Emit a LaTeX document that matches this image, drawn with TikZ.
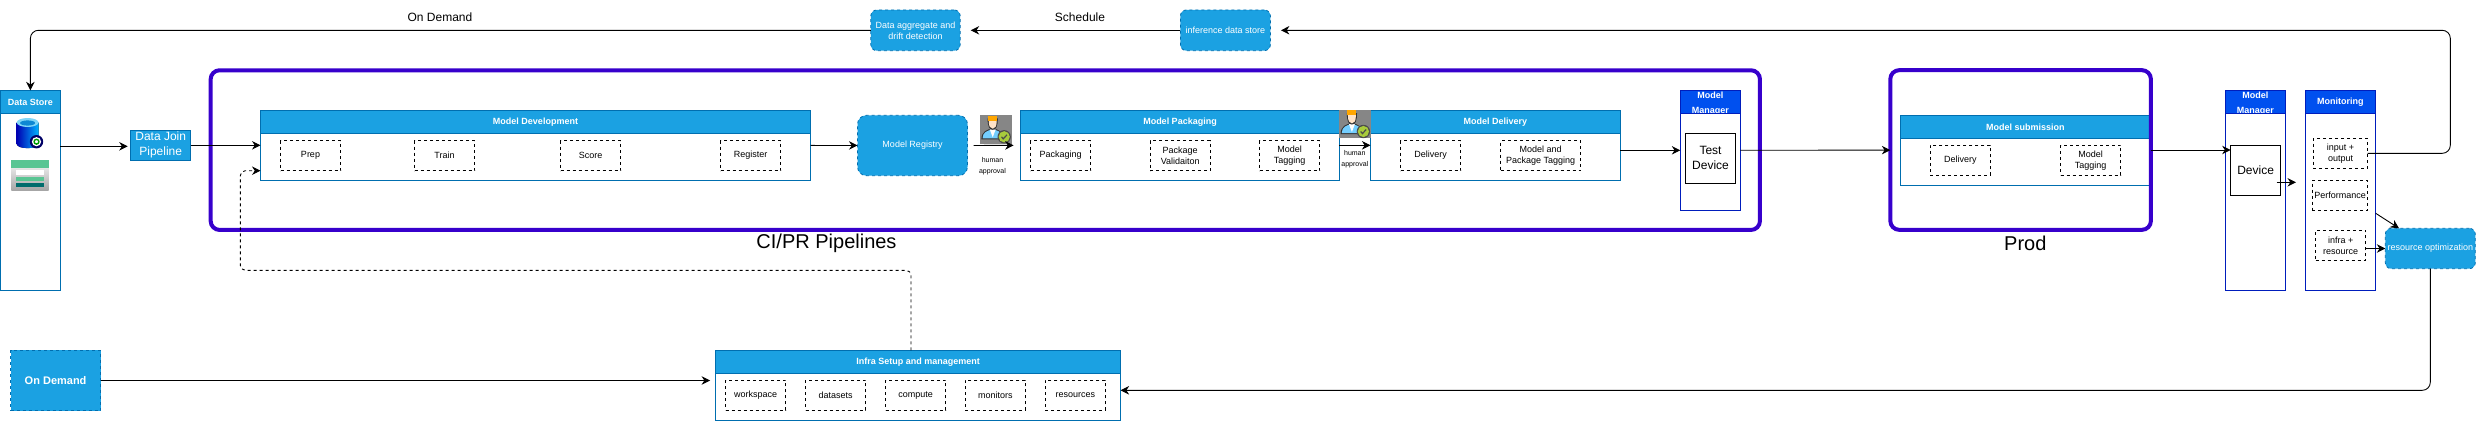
\documentclass[tikz,border=0pt]{standalone}
\usepackage{fontspec}
\setmainfont{Liberation Sans}
\usetikzlibrary{arrows.meta}
\definecolor{boxblue}{HTML}{1BA1E2}
\definecolor{boxline}{HTML}{006EAF}
\definecolor{mgrblue}{HTML}{0050EF}
\definecolor{mgrline}{HTML}{001DBC}
\definecolor{pipepurple}{HTML}{3700CC}
\definecolor{badgegreen}{HTML}{A8CB3C}
\tikzset{
    every node/.style={inner sep=0pt, outer sep=0pt},
    smalltext/.style={font=\fontsize{9}{11}\selectfont, align=center},
    bigtext/.style={font=\fontsize{12}{15}\selectfont, align=center},
    pipelabel/.style={font=\fontsize{20}{24}\selectfont},
    approvaltext/.style={font=\fontsize{7}{11}\selectfont, align=center},
    panelbox/.style={draw=boxline, fill=white, line width=1pt},
    headbox/.style={draw=boxline, fill=boxblue, line width=1pt, text=white, minimum height=23.4, anchor=north,
        font=\bfseries\fontsize{9}{15}\selectfont, align=center},
    mgrbox/.style={draw=mgrline, fill=white, line width=1pt},
    mgrhead/.style={headbox, draw=mgrline, fill=mgrblue},
    subbox/.style={draw=black, dash pattern=on 3pt off 3pt, line width=0.8pt, smalltext, minimum height=30},
    bluebox/.style={draw=boxline, fill=boxblue, dash pattern=on 3pt off 3pt, line width=0.8pt, text=white, smalltext, rounded corners=6},
    framebox/.style={draw=pipepurple, line width=4pt, rounded corners=9},
    devicebox/.style={draw=black, fill=white, line width=1pt, bigtext},
    conn/.style={draw=black, line width=0.9pt, -{Stealth[length=8.5pt,width=8.5pt]}},
    dashconn/.style={conn, dash pattern=on 3pt off 3pt, rounded corners=5},
    approver/.pic={
        \fill[gray!95] (0,0) rectangle (31.4,28.4);
        \fill[black!80] (1.2,24) .. controls (1.2,16) and (7,14) .. (12.5,13) .. controls (18,14) and (23,16) .. (24,24) -- cycle;
        \fill[blue!35!cyan!55] (2.4,23) .. controls (2.4,17) and (7,15) .. (12.5,14.2) .. controls (18,15) and (22,17) .. (23,23) -- cycle;
        \fill[white] (9.5,14) -- (15.5,14) -- (12.5,22) -- cycle;
        \fill[black!80] (7.4,3) .. controls (7.4,11) and (9,14.5) .. (12.5,14.5) .. controls (16,14.5) and (17.6,11) .. (17.6,3) -- cycle;
        \fill[orange!22!white] (8.5,5) .. controls (8.5,11) and (10,13.4) .. (12.5,13.4) .. controls (15,13.4) and (16.5,11) .. (16.5,5) -- cycle;
        \fill[orange!70!yellow] (8,0.4) rectangle (17,5.2);
        \fill[black!70] (24,21.5) circle (6.7);
        \fill[badgegreen] (24,21.5) circle (5.6);
        \draw[black!70, line width=1.2pt] (21.3,21.5) -- (23,23.6) -- (26.8,19.5);
    },
    dbicon/.pic={
        \fill[left color=blue!70!black, right color=cyan!70!blue] (16.7,122.5) -- (16.7,144) .. controls (17,149.5) and (38,149.5) .. (38.5,144) -- (38.5,122.5) -- cycle;
        \fill[cyan!50!white] (27.6,122.5) ellipse (10.9 and 4.5);
        \fill[cyan!70!blue] (27.6,123) ellipse (7.5 and 2.6);
        \fill[blue!40!black] (36.5,141.7) circle (6.7);
        \fill[white] (36.5,141.7) circle (4.6);
        \draw[green!60!black, line width=1.4pt] (36.5,141.7) circle (2.4);
    },
    tableicon/.pic={
        \fill[top color=white!92!black, bottom color=black!35] (11.3,166) rectangle (48.7,190);
        \fill[teal!70!green!65!white] (11.3,160) rectangle (48.7,168);
        \fill[white] (16,170) rectangle (44.3,175);
        \fill[teal!70!green!65!white] (16,176.7) rectangle (44.3,181);
        \fill[teal!85!black] (16,182.7) rectangle (44.3,187.3);
    }
}
\begin{document}
\begin{tikzpicture}[x=1pt, y=-1pt]
    \useasboundingbox (0,0) rectangle (2477,421);

    % data side
    \node[panelbox, minimum width=59.8, minimum height=200] (store) at (30.4,190.3) {};
    \node[headbox, minimum width=59.8] (storehead) at (store.north) {Data Store};
    \pic {dbicon};
    \pic {tableicon};
    \node[draw=boxline, fill=boxblue, line width=1pt, text=white, bigtext, minimum width=60, minimum height=30.6] (join) at (160.7,145.3) {Data Join\\Pipeline};

    % CI/PR frame
    \node[framebox, minimum width=1549.3, minimum height=159.7] (cipipe) at (985.3,150.1) {};
    \node[pipelabel] (cilabel) at (826.5,243) {CI/PR Pipelines};

    \node[panelbox, minimum width=550, minimum height=70] (dev) at (535.5,145.3) {};
    \node[headbox, minimum width=550] (devhead) at (dev.north) {Model Development};
    \node[subbox, minimum width=60] (prep) at (310.5,155.5) {Prep};
    \node[subbox, minimum width=60] (train) at (444.5,155.5) {Train};
    \node[subbox, minimum width=60] (score) at (590.5,155.5) {Score};
    \node[subbox, minimum width=60] (register) at (750.5,155.5) {Register};

    \node[bluebox, minimum width=110, minimum height=60.4, rounded corners=9] (registry) at (912.5,145.5) {Model Registry};

    \node[panelbox, minimum width=318.8, minimum height=70] (package) at (1180,145.3) {};
    \node[headbox, minimum width=318.8] (packagehead) at (package.north) {Model Packaging};
    \node[subbox, minimum width=60] (packaging) at (1060.6,155.5) {Packaging};
    \node[subbox, minimum width=60] (validation) at (1180.2,155.5) {Package\\Validaiton};
    \node[subbox, minimum width=60] (tagging) at (1289.5,155.5) {Model\\Tagging};

    \node[panelbox, minimum width=250, minimum height=70] (delivery) at (1495.4,145.3) {};
    \node[headbox, minimum width=250] (deliveryhead) at (delivery.north) {Model Delivery};
    \node[subbox, minimum width=60] (deliverysub) at (1430.6,155.5) {Delivery};
    \node[subbox, minimum width=80] (packtag) at (1540.7,155.5) {Model and\\Package Tagging};

    \node[mgrbox, minimum width=60, minimum height=120] (mgrtest) at (1710.3,150.3) {};
    \node[mgrhead, minimum width=60] (mgrtesthead) at (mgrtest.north) {\rule{0pt}{8.6pt}Model\\Manager};
    \node[mgrbox, minimum width=60, minimum height=96.6, anchor=south] (mgrtestbody) at (mgrtest.south) {};
    \node[devicebox, minimum width=50, minimum height=50] (testdev) at (1710.5,158.3) {Test\\Device};

    % approval icons
    \pic at (980.2,115.3) {approver};
    \pic at (1339.4,110) {approver};
    \node[approvaltext] (approvala) at (992.5,166.2) {human\\approval};
    \node[approvaltext] (approvalb) at (1354.8,159.2) {human\\approval};

    % prod
    \node[panelbox, minimum width=249.3, minimum height=70] (submission) at (2025.3,150.3) {};
    \node[headbox, minimum width=249.3] (submissionhead) at (submission.north) {Model submission};
    \node[subbox, minimum width=60] (proddelivery) at (1960.4,160.3) {Delivery};
    \node[subbox, minimum width=60] (prodtag) at (2090.7,160.3) {Model\\Tagging};
    \node[framebox, minimum width=260.6, minimum height=159.7] (prod) at (2020.6,150) {};
    \node[pipelabel] (prodlabel) at (2025.3,243) {Prod};

    \node[mgrbox, minimum width=60, minimum height=200] (mgrprod) at (2255.3,190.3) {};
    \node[mgrhead, minimum width=60] (mgrprodhead) at (mgrprod.north) {\rule{0pt}{8.6pt}Model\\Manager};
    \node[mgrbox, minimum width=60, minimum height=176.6, anchor=south] (mgrprodbody) at (mgrprod.south) {};
    \node[devicebox, minimum width=50, minimum height=50] (device) at (2255.6,170.3) {Device};

    \node[mgrbox, minimum width=70, minimum height=200] (monitor) at (2340.3,190.3) {};
    \node[mgrhead, minimum width=70] (monitorhead) at (monitor.north) {Monitoring};
    \node[subbox, minimum width=54.4] (inout) at (2340.5,153.3) {input +\\output};
    \node[subbox, minimum width=55.4] (perf) at (2340,195.3) {Performance};
    \node[subbox, minimum width=50] (infrares) at (2340.7,245.3) {infra +\\resource};
    \node[bluebox, minimum width=90, minimum height=40.4] (resopt) at (2430.3,248.5) {resource optimization};

    % top row
    \node[bluebox, minimum width=89.4, minimum height=40.7] (agg) at (915.5,30.3) {Data aggregate and\\drift detection};
    \node[bluebox, minimum width=90, minimum height=40.7] (infstore) at (1225.4,30.3) {inference data store};
    \node[bigtext] (ondemandlabel) at (440,17.7) {On Demand};
    \node[bigtext] (schedulelabel) at (1080,17.7) {Schedule};

    % infra row
    \node[draw=boxline, fill=boxblue, dash pattern=on 3pt off 3pt, line width=0.8pt, text=white, minimum width=90, minimum height=60.4,
        font=\bfseries\fontsize{11}{13}\selectfont] (ondemand) at (55.6,380.5) {On Demand};
    \node[panelbox, minimum width=405, minimum height=70] (infra) at (918.1,385.3) {};
    \node[headbox, minimum width=405] (infrahead) at (infra.north) {Infra Setup and management};
    \node[subbox, minimum width=60] (workspace) at (755.7,395.3) {workspace};
    \node[subbox, minimum width=60] (datasets) at (835.6,395.3) {datasets};
    \node[subbox, minimum width=60] (compute) at (915.5,395.3) {compute};
    \node[subbox, minimum width=60] (monitors) at (995.4,395.3) {monitors};
    \node[subbox, minimum width=60] (resources) at (1075.4,395.3) {resources};

    % free ends
    \coordinate (storeout) at (60.3,146.3);
    \coordinate (topright) at (2450.3,30.3);
    \coordinate (resdown) at (2430.3,390.3);
    \coordinate (dashstart) at (911,350.3);
    \coordinate (dashright) at (911,270.3);
    \coordinate (dashleft) at (240.3,270.3);
    \coordinate (dashup) at (240.3,170.7);
    \coordinate (devout) at (2276.7,182.3);
    \coordinate (monin) at (2296,182.3);
    \coordinate (monout) at (2375.7,213.3);
    \coordinate (resin) at (2399,228.3);

    % connectors
    \draw[conn, shorten >=3pt] (storeout) -- (storeout -| join.west);
    \draw[conn] (join) -- (dev);
    \draw[conn] (dev) -- (registry);
    \draw[conn, shorten <=6pt, shorten >=7pt] (registry) -- (package);
    \draw[conn] (package) -- (delivery);
    \draw[conn] (delivery.east |- mgrtest) -- (mgrtest);
    \draw[conn] (mgrtest) -- (prod);
    \draw[conn] (prod.east) -- (prod.east -| device.west);
    \draw[conn] (devout) -- (monin);
    \draw[conn] (monout) -- (resin);
    \draw[conn] (infrares.east |- resopt) -- (resopt);
    \draw[conn, rounded corners=8, shorten >=10.5pt] (inout.east) -| (topright) -- (infstore);
    \draw[conn, shorten >=10.5pt] (infstore) -- (agg);
    \draw[conn, rounded corners=8] (agg) -| (store.north);
    \draw[conn, rounded corners=8] (resopt.south) -- (resdown) -- (resdown -| infra.east);
    \draw[conn, shorten >=5.5pt] (ondemand.east) -- (ondemand.east -| infra.west);
    \draw[dashconn] (dashstart) -- (dashright) -- (dashleft) -- (dashup) -- (dashup -| dev.west);
\end{tikzpicture}
\end{document}
